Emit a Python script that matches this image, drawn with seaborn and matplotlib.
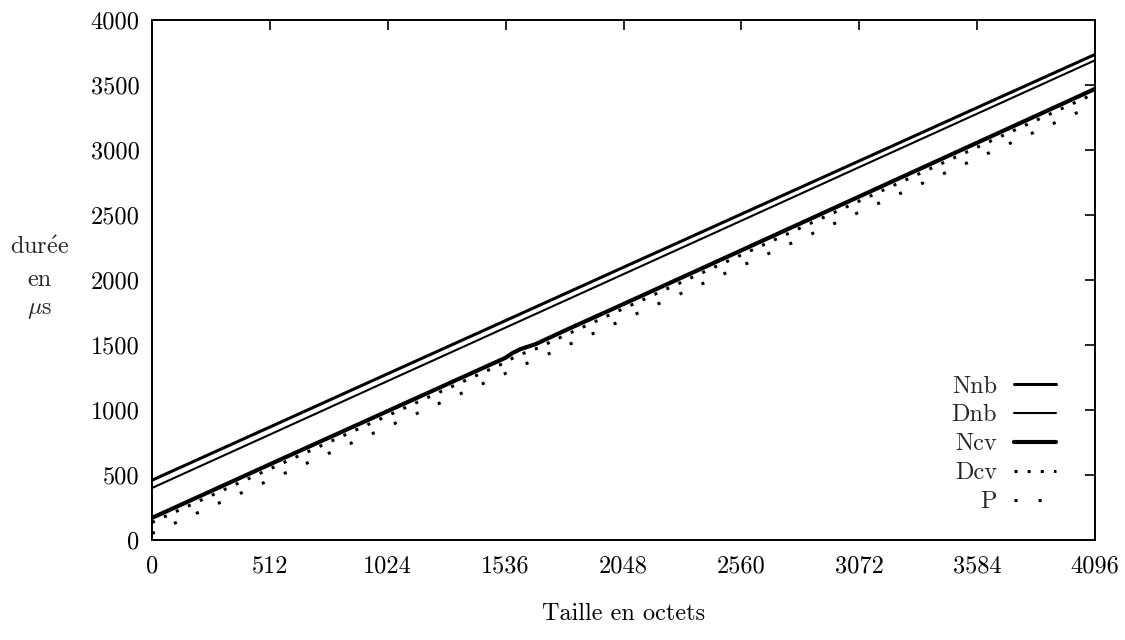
import matplotlib
matplotlib.use("Agg")
import matplotlib.pyplot as plt
import seaborn as sns
import pandas as pd

# ---- data ----
x_lin = [0, 512, 1024, 1536, 2048, 2560, 3072, 3584, 4096]
nnb = [460, 869, 1279, 1688, 2098, 2507, 2916, 3326, 3735]
dnb = [400, 811, 1223, 1634, 2045, 2456, 2868, 3279, 3690]

x_cv = [0, 512, 1024, 1536, 1568, 1600, 1664, 1792, 2048, 2560, 3072, 3584, 4096]
ncv = [170, 582, 992, 1402, 1440, 1468, 1505, 1610, 1815, 2228, 2642, 3056, 3470]
dcv = [135, 547, 957, 1367, 1400, 1428, 1468, 1573, 1780, 2193, 2607, 3021, 3435]
p = [50, 462, 872, 1282, 1310, 1338, 1385, 1488, 1695, 2108, 2522, 2936, 3350]

x_ticks = [0, 512, 1024, 1536, 2048, 2560, 3072, 3584, 4096]
y_ticks = [0, 500, 1000, 1500, 2000, 2500, 3000, 3500, 4000]

sns.set_theme(style="white")
plt.rcParams["font.family"] = ["cmr10", "DejaVu Serif"]
plt.rcParams["mathtext.fontset"] = "cm"
plt.rcParams["axes.formatter.use_mathtext"] = True

FS = 17.5

fig = plt.figure(figsize=(11.25, 6.4), dpi=100)
ax = fig.add_axes([152 / 1125, 1 - 540 / 640, (1095 - 152) / 1125, (540 - 20) / 640])

df_lin = pd.DataFrame({"x": x_lin, "Nnb": nnb, "Dnb": dnb})
df_cv = pd.DataFrame({"x": x_cv, "Ncv": ncv, "Dcv": dcv, "P": p})

sns.lineplot(data=df_lin, x="x", y="Nnb", ax=ax, color="black", lw=2.2, label="Nnb")
sns.lineplot(data=df_lin, x="x", y="Dnb", ax=ax, color="black", lw=1.5, label="Dnb")
sns.lineplot(data=df_cv, x="x", y="Ncv", ax=ax, color="black", lw=3.0, label="Ncv")
sns.lineplot(data=df_cv, x="x", y="Dcv", ax=ax, color="black", lw=2.2,
             linestyle=(0, (1, 3.3)), label="Dcv")
sns.lineplot(data=df_cv, x="x", y="P", ax=ax, color="black", lw=2.2,
             linestyle=(0, (1, 6.9)), label="P")

ax.set_xlim(0, 4096)
ax.set_ylim(0, 4000)
ax.set_xticks(x_ticks)
ax.set_xticklabels([str(v) for v in x_ticks])
ax.set_yticks(y_ticks)
ax.set_yticklabels([str(v) for v in y_ticks])
ax.tick_params(direction="in", length=7, width=1.2, top=True, right=True,
               labelsize=FS, colors="black")
ax.tick_params(axis="x", pad=11)
ax.tick_params(axis="y", pad=9)
for s in ax.spines.values():
    s.set_color("black")
    s.set_linewidth(1.4)
ax.grid(False)

ax.set_xlabel("Taille en octets", fontsize=FS, labelpad=18, color="black")
ax.set_ylabel("")

fig.text(40 / 1125, 1 - 248 / 640, r"dur$\acute{\mathrm{e}}$e", ha="center", va="center", fontsize=FS)
fig.text(40 / 1125, 1 - 280 / 640, "en", ha="center", va="center", fontsize=FS)
fig.text(40 / 1125, 1 - 310 / 640, r"$\mu$s", ha="center", va="center", fontsize=FS)

leg = ax.legend(loc="lower right", bbox_to_anchor=(0.972, 0.028), frameon=False,
                markerfirst=False, fontsize=FS, handlelength=1.75,
                labelspacing=0.28, handletextpad=0.7, borderpad=0)

fig.savefig("out.png", dpi=100)
